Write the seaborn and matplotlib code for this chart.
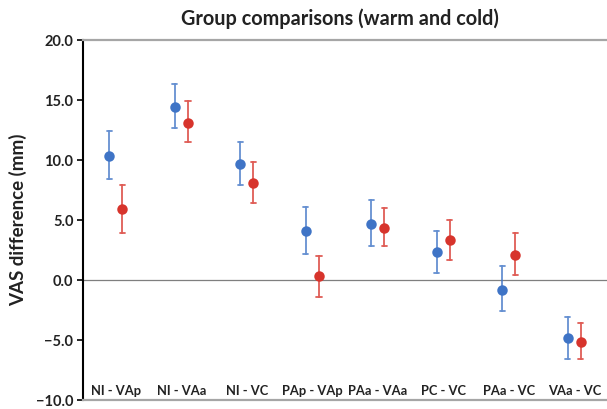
import numpy as np
import pandas as pd
import matplotlib
matplotlib.use("Agg")
import matplotlib.pyplot as plt
import seaborn as sns
from matplotlib.ticker import FuncFormatter, MultipleLocator

# comparisons and VAS differences (mm)
comparisons = ["NI - VAp", "NI - VAa", "NI - VC", "PAp - VAp",
               "PAa - VAa", "PC - VC", "PAa - VC", "VAa - VC"]
warm_mean = [10.3, 14.4, 9.7, 4.1, 4.7, 2.3, -0.8, -4.8]
warm_low = [8.4, 12.7, 7.9, 2.2, 2.8, 0.6, -2.6, -6.6]
warm_high = [12.4, 16.3, 11.5, 6.1, 6.7, 4.1, 1.2, -3.1]
cold_mean = [5.9, 13.1, 8.1, 0.3, 4.3, 3.3, 2.1, -5.2]
cold_low = [3.9, 11.5, 6.4, -1.4, 2.8, 1.7, 0.4, -6.6]
cold_high = [7.9, 14.9, 9.8, 2.0, 6.0, 5.0, 3.9, -3.6]

# long table: low / mean / high per point -> median = mean, full range = bar
rows = []
for grp, lo, mid, hi in [("warm", warm_low, warm_mean, warm_high),
                         ("cold", cold_low, cold_mean, cold_high)]:
    for c, a, b, d in zip(comparisons, lo, mid, hi):
        for v in (a, b, d):
            rows.append({"comparison": c, "group": grp, "vas": v})
df = pd.DataFrame(rows)

sns.set_style("white")
plt.rcParams["font.family"] = ["Lato", "DejaVu Sans"]

fig = plt.figure(figsize=(6.07, 4.09), dpi=100)
ax = fig.add_axes([0.137, 0.022, 0.863, 0.880])

sns.pointplot(data=df, x="comparison", y="vas", hue="group",
              order=comparisons, hue_order=["warm", "cold"],
              palette={"warm": "#3f74c6", "cold": "#d7342c"},
              estimator="median", errorbar=("pi", 100),
              dodge=0.2, linestyle="none", capsize=0.08,
              markersize=5.5, err_kws={"linewidth": 1.3, "alpha": 0.8},
              legend=False, ax=ax)

ax.axhline(0, color="#7f7f7f", linewidth=0.9, zorder=0)
ax.set_ylim(-10, 20)
ax.set_xlim(-0.5, 7.5)
ax.yaxis.set_major_locator(MultipleLocator(5))
ax.yaxis.set_major_formatter(FuncFormatter(lambda v, p: f"{v:.1f}".replace("-", "\u2212")))

for lab in ax.get_yticklabels():
    lab.set_fontweight("bold")
ax.tick_params(axis="y", left=True, length=4, width=1.2, color="black",
               labelsize=10.5, pad=3, labelcolor="#222222")
ax.tick_params(axis="x", bottom=False, labelsize=9.3, pad=-14, labelcolor="#222222")
for lab in ax.get_xticklabels():
    lab.set_fontweight("bold")

ax.spines["left"].set_color("black")
ax.spines["left"].set_linewidth(1.5)
ax.spines["top"].set_color("#a6a6a6")
ax.spines["top"].set_linewidth(1.6)
ax.spines["bottom"].set_color("#a6a6a6")
ax.spines["bottom"].set_linewidth(1.6)
ax.spines["right"].set_visible(False)

ax.set_xlabel("")
ax.set_ylabel("VAS difference (mm)", fontsize=13.5, fontweight="bold",
              labelpad=6, color="#222222")
ax.set_title("Group comparisons (warm and cold)", fontsize=14.3,
             fontweight="bold", pad=11, x=0.49, color="#222222")

fig.savefig("out.png", dpi=100)
